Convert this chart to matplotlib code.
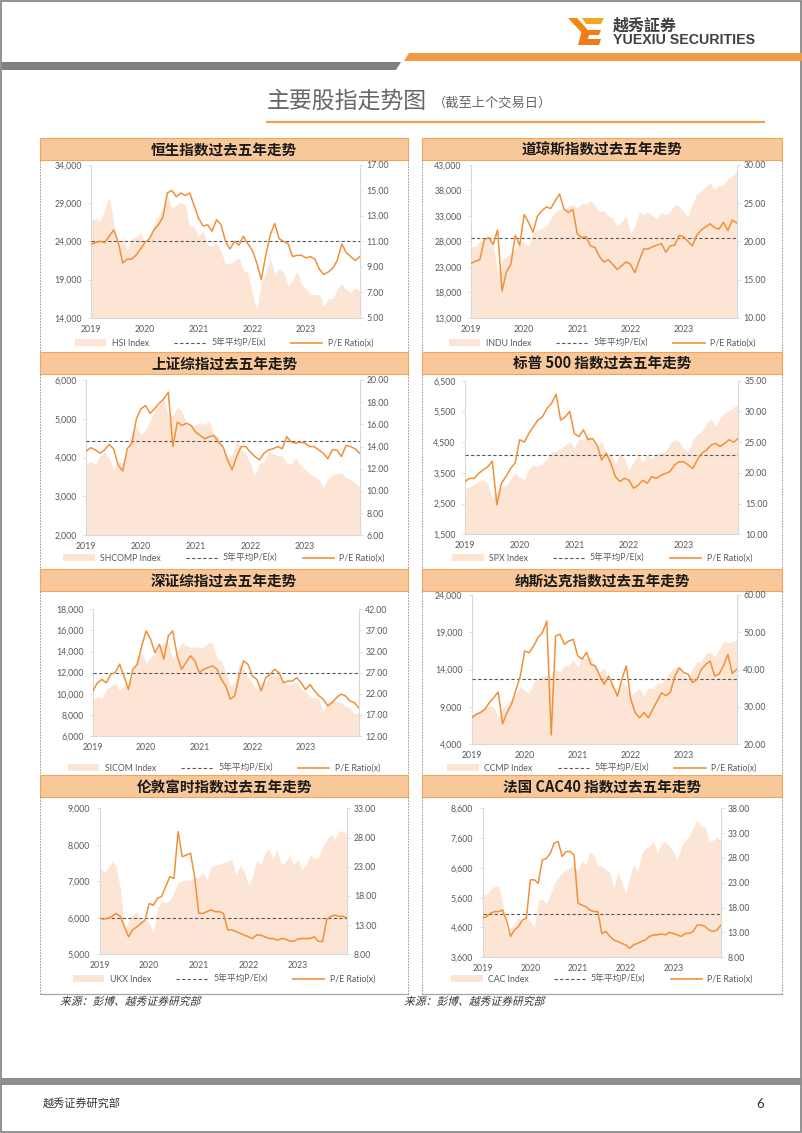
import numpy as np
import matplotlib
matplotlib.use('Agg')
import matplotlib.pyplot as plt
from matplotlib.patches import Rectangle, Polygon, Patch, PathPatch
from matplotlib.lines import Line2D
from matplotlib.ticker import FuncFormatter
from matplotlib.textpath import TextPath
from matplotlib.font_manager import FontProperties
from matplotlib.transforms import Affine2D

plt.rcParams['font.family'] = ['Lato', 'Noto Sans CJK SC', 'DejaVu Sans']

W, H = 802, 1133

# monthly points, first label year on the axis to the last month shown
months = 2019 + np.arange(61) / 12
year_ticks = [2019, 2020, 2021, 2022, 2023]

# ---- index levels (area, left axis) ----
hsi_index = [26800, 27000, 26600, 28200, 29800, 26500, 23000, 24600, 23000, 24400, 24600, 25200,
             23500, 24100, 26300, 27200, 28300, 30000, 28400, 28700, 29100, 28800, 26000, 25900,
             24600, 25400, 23500, 23400, 23800, 22700, 21000, 21100, 21400, 21900, 20200, 19900,
             17200, 15000, 18600, 19800, 21800, 19800, 20400, 19900, 18200, 18900, 20100, 18400,
             17800, 17100, 17000, 17000, 15500, 16500, 16500, 17800, 18500, 17700, 17300, 17900, 17500]
indu_index = [26900, 27000, 28000, 28500, 28500, 27500, 21900, 24300, 25000, 25800, 26400, 28000,
              27800, 27000, 29600, 30300, 30500, 31000, 32500, 33800, 34300, 34300, 34900, 35300,
              34500, 35500, 35300, 36000, 35000, 33900, 34000, 33000, 32500, 31000, 31800, 33000,
              29500, 31000, 33800, 33300, 33800, 33000, 32500, 33800, 33200, 33800, 35300, 34900,
              33800, 33000, 35300, 37300, 37900, 38700, 39500, 38200, 39000, 39000, 40300, 40800, 41800]
shcomp_index = [3850, 3900, 3830, 4050, 4150, 4000, 3700, 3900, 3870, 4150, 4700, 4800,
                4600, 4700, 4950, 5200, 5350, 5550, 5050, 5100, 5300, 5200, 4850, 4800,
                4850, 4900, 4850, 4950, 4600, 4550, 4200, 4000, 4100, 4450, 4200, 4100,
                3850, 3550, 3850, 3900, 4150, 4100, 4050, 4050, 3850, 3850, 4000, 3800,
                3700, 3600, 3500, 3450, 3250, 3450, 3550, 3600, 3600, 3480, 3450, 3350, 3250]
spx_index = [2980, 3040, 3140, 3230, 3280, 3150, 2650, 2910, 3040, 3100, 3270, 3500,
             3360, 3270, 3620, 3750, 3710, 3810, 3970, 4180, 4200, 4300, 4400, 4520,
             4310, 4600, 4570, 4770, 4520, 4370, 4530, 4130, 4130, 3790, 4130, 3960,
             3590, 3870, 4080, 3840, 4080, 3970, 4110, 4170, 4180, 4450, 4590, 4510,
             4290, 4190, 4570, 4770, 4850, 5100, 5250, 5040, 5280, 5460, 5520, 5650, 5700]
sicom_index = [9500, 9700, 9600, 10400, 10700, 11000, 10300, 10800, 10750, 11900, 13600, 13850,
               12900, 13400, 13800, 14450, 14800, 14800, 13400, 13950, 14850, 14600, 14400, 14450,
               14300, 14450, 14800, 14850, 13350, 13100, 12000, 10800, 11000, 12900, 12300, 11600,
               11000, 10400, 11200, 11000, 12000, 11800, 11700, 11300, 10800, 11000, 11100, 10400,
               10200, 9750, 9600, 9500, 8300, 9200, 9400, 9300, 9200, 8800, 8700, 8100, 8200]
ccmp_index = [8000, 8290, 8660, 8970, 9150, 9000, 7700, 8890, 9490, 10060, 10750, 11780,
              11170, 10910, 12200, 12890, 13070, 13190, 13250, 13960, 13750, 14500, 14670, 15260,
              14450, 15500, 15540, 15650, 14240, 13750, 14220, 12330, 12080, 11030, 12390, 11820,
              10580, 10990, 11470, 10470, 11580, 11460, 12220, 12230, 12930, 13790, 14350, 14030,
              13220, 12850, 14230, 15010, 15160, 16090, 16380, 15660, 16740, 17730, 17600, 17710, 18000]
ukx_index = [7400, 7250, 7350, 7540, 7400, 6800, 5670, 5900, 6080, 6170, 5900, 5960,
             5870, 5580, 6270, 6460, 6410, 6480, 6710, 6970, 7020, 7040, 7030, 7120,
             7090, 7240, 7060, 7380, 7460, 7460, 7520, 7540, 7610, 7170, 7420, 7280,
             6890, 7100, 7570, 7450, 7770, 7880, 7630, 7870, 7450, 7530, 7700, 7440,
             7610, 7320, 7450, 7730, 7630, 7630, 7950, 8140, 8280, 8160, 8370, 8380, 8250]
cac_index = [5680, 5730, 5900, 5980, 6000, 5400, 4400, 4570, 4700, 4940, 4780, 5000,
             4800, 4590, 5520, 5550, 5400, 5700, 6070, 6270, 6450, 6510, 6610, 6680,
             6520, 6830, 6720, 7150, 7000, 6660, 6660, 6530, 6470, 5920, 6450, 6130,
             5760, 6270, 6740, 6470, 7080, 7270, 7320, 7490, 7100, 7400, 7500, 7320,
             7140, 6880, 7310, 7540, 7660, 7930, 8200, 7980, 7990, 7480, 7530, 7630, 7500]

# ---- P/E ratio (line, right axis) ----
hsi_pe = [10.8, 10.9, 11.0, 10.9, 11.4, 11.9, 11.0, 9.3, 9.6, 9.6, 9.9, 10.4,
          10.9, 11.2, 11.9, 12.3, 12.9, 14.8, 15.0, 14.5, 14.8, 14.6, 14.8, 13.8,
          12.8, 12.2, 12.3, 11.8, 12.7, 12.3, 11.0, 10.4, 11.0, 10.7, 11.4, 10.8,
          10.3, 9.3, 8.0, 9.9, 11.5, 12.4, 11.2, 11.0, 10.8, 9.8, 9.9, 9.9,
          9.7, 9.8, 9.6, 8.8, 8.4, 8.6, 8.9, 9.5, 10.8, 10.1, 9.8, 9.5, 9.8]
indu_pe = [17.1, 17.4, 17.6, 20.2, 20.5, 19.6, 21.5, 13.5, 16.0, 17.0, 20.8, 19.5,
           23.5, 22.5, 21.2, 23.3, 24.0, 24.5, 24.3, 25.3, 26.2, 24.2, 23.8, 24.2,
           21.0, 20.5, 20.6, 19.4, 19.2, 18.0, 17.3, 17.6, 17.0, 16.3, 16.8, 17.3,
           17.0, 15.9, 17.5, 19.0, 19.0, 19.3, 19.5, 19.7, 18.6, 19.4, 19.5, 20.8,
           20.6, 20.0, 19.4, 20.8, 21.5, 21.9, 22.3, 21.8, 21.6, 22.5, 21.4, 22.8, 22.4]
shcomp_pe = [13.6, 13.9, 13.7, 13.4, 13.7, 14.2, 13.8, 12.3, 11.8, 13.8, 14.3, 16.5,
             17.4, 17.7, 17.0, 17.4, 17.9, 18.3, 18.9, 14.0, 16.2, 15.9, 16.1, 15.9,
             15.3, 15.0, 14.7, 14.9, 15.0, 14.4, 14.0, 12.8, 11.9, 13.1, 14.0, 14.0,
             13.5, 13.1, 12.8, 13.4, 13.7, 13.8, 14.0, 13.8, 14.9, 14.4, 14.3, 14.4,
             14.3, 14.0, 14.0, 13.7, 13.4, 12.9, 13.7, 13.7, 13.1, 14.1, 14.0, 13.8, 13.4]
spx_pe = [18.6, 19.1, 19.1, 19.9, 20.5, 21.0, 21.9, 14.8, 18.3, 19.4, 20.7, 21.6,
          25.4, 25.0, 26.4, 27.5, 28.6, 29.1, 30.5, 31.3, 32.8, 28.6, 29.1, 30.0,
          26.4, 25.9, 27.0, 25.4, 25.6, 24.5, 22.1, 23.2, 21.6, 19.4, 18.6, 19.1,
          18.8, 17.5, 18.0, 18.8, 18.3, 19.4, 19.1, 19.6, 19.9, 20.2, 21.3, 21.8,
          21.8, 21.3, 20.7, 22.1, 23.2, 23.7, 24.5, 24.8, 24.3, 24.8, 25.4, 25.0, 25.6]
sicom_pe = [22.7, 24.6, 25.4, 24.6, 26.6, 27.0, 29.0, 26.2, 23.0, 27.8, 29.0, 33.3,
            36.9, 34.9, 31.7, 33.7, 30.2, 35.7, 36.9, 31.0, 27.8, 29.4, 31.0, 29.8,
            27.0, 27.8, 28.2, 28.6, 27.8, 25.4, 23.8, 20.7, 21.5, 26.2, 29.8, 29.0,
            26.2, 25.4, 22.7, 25.8, 26.6, 27.8, 27.0, 24.6, 25.0, 25.0, 25.8, 24.6,
            23.0, 24.2, 22.7, 21.5, 20.7, 19.1, 19.9, 21.1, 21.9, 21.5, 20.3, 19.9, 18.7]
ccmp_pe = [27.1, 28.0, 28.5, 29.4, 31.2, 32.5, 34.0, 25.5, 28.5, 30.7, 34.5, 38.3,
           45.0, 44.5, 46.3, 48.6, 49.9, 53.0, 22.5, 49.0, 49.5, 46.8, 47.7, 48.1,
           43.7, 42.8, 44.6, 41.4, 41.0, 38.3, 36.1, 38.3, 35.6, 32.9, 37.4, 41.0,
           32.1, 28.5, 27.1, 28.5, 27.1, 29.4, 31.6, 33.8, 33.0, 34.0, 38.3, 40.5,
           39.2, 38.8, 36.5, 37.4, 40.1, 41.4, 42.3, 38.3, 38.8, 41.0, 44.1, 39.0, 40.1]
ukx_pe = [14.2, 14.0, 14.2, 14.5, 15.0, 14.5, 12.7, 11.0, 12.2, 12.7, 13.3, 13.9,
          16.7, 16.4, 17.6, 17.9, 19.6, 21.3, 21.0, 29.0, 24.7, 25.0, 25.3, 21.3,
          15.0, 15.0, 15.3, 15.6, 15.3, 15.3, 15.0, 12.2, 12.2, 11.9, 11.6, 11.3,
          11.0, 10.7, 11.3, 11.3, 11.0, 10.7, 10.7, 10.4, 10.7, 10.6, 10.3, 10.2,
          10.6, 10.7, 10.7, 10.7, 11.0, 10.2, 10.2, 13.9, 14.5, 14.7, 14.5, 14.5, 14.2]
cac_pe = [15.9, 16.2, 16.9, 17.2, 17.2, 17.5, 15.5, 12.2, 13.5, 14.2, 15.5, 15.9,
          23.6, 23.6, 22.9, 27.6, 27.9, 28.9, 31.0, 31.3, 28.3, 29.3, 29.3, 28.6,
          18.9, 18.5, 18.2, 17.5, 17.2, 17.2, 12.8, 13.2, 12.2, 11.5, 11.2, 10.8,
          10.5, 9.8, 10.5, 10.8, 11.2, 11.5, 12.2, 12.5, 12.5, 12.7, 12.5, 13.0,
          12.8, 12.5, 12.2, 12.8, 12.8, 13.2, 14.5, 14.5, 14.2, 13.5, 13.2, 13.5, 14.5]

# 5-year average P/E
avg_pe = {'HSI': 11.0, 'INDU': 20.4, 'SHCOMP': 14.5, 'SPX': 22.9,
          'SICOM': 26.8, 'CCMP': 37.6, 'UKX': 14.3, 'CAC': 16.7}

titles = ['恒生指数过去五年走势', '道琼斯指数过去五年走势', '上证综指过去五年走势',
          '标普 500 指数过去五年走势', '深证综指过去五年走势', '纳斯达克指数过去五年走势',
          '伦敦富时指数过去五年走势', '法国 CAC40 指数过去五年走势']

AREA = '#FCE5D4'
LINE = '#F0913A'
DASH = '#595959'
TXT = '#595959'
AXC = '#D9D9D9'
HEAD = '#F9C89A'
HEAD_EDGE = '#F2A55E'
CJK = ['Noto Sans CJK SC', 'DejaVu Sans']
NUM = ['Lato', 'Noto Sans CJK SC', 'DejaVu Sans']

fig = plt.figure(figsize=(W / 100, H / 100), dpi=100)
bg = fig.add_axes([0, 0, 1, 1])
bg.set_xlim(0, W)
bg.set_ylim(H, 0)
bg.axis('off')


def rect(l, t, r, b):
    return [l / W, 1 - b / H, (r - l) / W, (b - t) / H]


def slanted_text(x, y, s, size_px, color):
    # CJK fonts have no italic face, so shear the glyph outlines instead
    tp = TextPath((0, 0), s, size=size_px, prop=FontProperties(family='Noto Sans CJK SC'))
    tr = Affine2D().skew_deg(14, 0).scale(1, -1).translate(x, y) + bg.transData
    bg.add_patch(PathPatch(tp, transform=tr, fc=color, ec='none'))


# ---- page decoration ----
bg.add_patch(Rectangle((0.5, 0.5), W - 1.5, H - 1.5, fill=False, ec='#7F7F7F', lw=1.2))
bg.add_patch(Polygon([(409, 53), (W, 53), (W, 61), (404, 61)], closed=True, fc='#F39A44', ec='none'))
bg.add_patch(Polygon([(2, 62), (401, 62), (396, 70), (2, 70)], closed=True, fc='#808080', ec='none'))

ox, oy = 568, 18
logo = [([(0, 0), (9, 0), (20, 12), (15, 16)], '#F08A0C'),
        ([(14, 0), (36, 0), (33, 6), (18, 6)], '#F5A623'),
        ([(14, 12), (33, 12), (31, 17), (21, 17), (20, 21), (33, 21), (31, 27), (10, 27)], '#EE7D1A')]
for pts, col in logo:
    bg.add_patch(Polygon([(ox + x, oy + y) for x, y in pts], closed=True, fc=col, ec='none'))
bg.text(613, 26, '越秀証券', fontsize=11.5, fontweight='bold', color='#404040',
        family=CJK, va='center', ha='left')
bg.text(613, 40, 'YUEXIU SECURITIES', fontsize=10.2, fontweight='bold', color='#404040',
        family=['Liberation Sans', 'DejaVu Sans'], va='center', ha='left')

bg.text(267, 101, '主要股指走势图', fontsize=16.5, color='#666666', family=CJK, va='center')
bg.text(433, 103, '（截至上个交易日）', fontsize=9.5, color='#666666', family=CJK, va='center')
bg.plot([266, 765], [121.5, 121.5], color='#F5A04A', lw=1.6, solid_capstyle='butt')

cols = [(40, 408), (422, 782)]
head_top = [138, 352, 569, 775]
frame_bottom = [352, 569, 775, 994]
for r in range(4):
    for x0, x1 in cols:
        bg.add_patch(Rectangle((x0, head_top[r]), x1 - x0, 22, fc=HEAD, ec=HEAD_EDGE, lw=0.8))
        for x in (x0, x1):
            bg.plot([x, x], [head_top[r] + 22, frame_bottom[r]], color='#8C8C8C',
                    lw=0.6, ls=(0, (2, 1.5)))
for x0, x1 in cols:
    bg.plot([x0, x1], [994, 994], color='#A6A6A6', lw=0.9)

for x in (60, 404):
    slanted_text(x, 1005, '来源：彭博、越秀证券研究部', 10.8, '#333333')

bg.add_patch(Rectangle((0, 1078), W, 7, fc='#8E8E8E', ec='none'))
bg.text(43, 1104, '越秀证券研究部', fontsize=8, color='#333333', family=CJK, va='center')
bg.text(760, 1104, '6', fontsize=9.5, color='#333333', family=NUM, va='center', ha='center')

# ---- panels ----
panels = [
    dict(key='HSI', name='HSI Index', index=hsi_index, pe=hsi_pe, col=0, row=0,
         box=(91.3, 165, 359.7, 317.7), ylim=(14000, 34000), ystep=5000, plim=(5, 17), pstep=2, ly=343),
    dict(key='INDU', name='INDU Index', index=indu_index, pe=indu_pe, col=1, row=0,
         box=(471, 165, 736.7, 317.7), ylim=(13000, 43000), ystep=5000, plim=(10, 30), pstep=5, ly=343),
    dict(key='SHCOMP', name='SHCOMP Index', index=shcomp_index, pe=shcomp_pe, col=0, row=1,
         box=(86.3, 380, 359.7, 535.3), ylim=(2000, 6000), ystep=1000, plim=(6, 20), pstep=2, ly=558),
    dict(key='SPX', name='SPX Index', index=spx_index, pe=spx_pe, col=1, row=1,
         box=(465, 380.7, 738.3, 534.3), ylim=(1500, 6500), ystep=1000, plim=(10, 35), pstep=5, ly=558),
    dict(key='SICOM', name='SICOM Index', index=sicom_index, pe=sicom_pe, col=0, row=2,
         box=(93, 609.3, 358.7, 736), ylim=(6000, 18000), ystep=2000, plim=(12, 42), pstep=5, ly=768),
    dict(key='CCMP', name='CCMP Index', index=ccmp_index, pe=ccmp_pe, col=1, row=2,
         box=(471.7, 595, 736.7, 744.3), ylim=(4000, 24000), ystep=5000, plim=(20, 60), pstep=10, ly=768),
    dict(key='UKX', name='UKX Index', index=ukx_index, pe=ukx_pe, col=0, row=3,
         box=(99.7, 808.3, 347.3, 954.3), ylim=(5000, 9000), ystep=1000, plim=(8, 33), pstep=5, ly=979),
    dict(key='CAC', name='CAC Index', index=cac_index, pe=cac_pe, col=1, row=3,
         box=(482.7, 808.3, 721, 957.3), ylim=(3600, 8600), ystep=1000, plim=(8, 38), pstep=5, ly=979),
]

for i, p in enumerate(panels):
    x0, x1 = cols[p['col']]
    bg.text((x0 + x1) / 2, head_top[p['row']] + 11.5, titles[i], fontsize=10.5, fontweight='bold',
            color='#1A1A1A', family=CJK, ha='center', va='center')

    ax = fig.add_axes(rect(*p['box']))
    ax.patch.set_alpha(0)
    ax.fill_between(months, p['ylim'][0], p['index'], color=AREA, lw=0)
    ax.set_xlim(2019, 2024)
    ax.set_ylim(*p['ylim'])
    ax.set_yticks(np.arange(p['ylim'][0], p['ylim'][1] + 1, p['ystep']))
    ax.yaxis.set_major_formatter(FuncFormatter(lambda v, _: f'{v:,.0f}'))
    ax.set_xticks(year_ticks)
    ax.set_xticklabels([str(y) for y in year_ticks])
    ax.tick_params(axis='x', length=0, pad=5, labelsize=6.3, labelcolor=TXT)
    ax.tick_params(axis='y', length=2.2, width=0.6, color=AXC, pad=4.5, labelsize=6.3, labelcolor=TXT)
    for s in ('top', 'right'):
        ax.spines[s].set_visible(False)
    for s in ('left', 'bottom'):
        ax.spines[s].set_color(AXC)
        ax.spines[s].set_linewidth(0.8)

    ax2 = ax.twinx()
    ax2.axhline(avg_pe[p['key']], color=DASH, lw=0.8, ls=(0, (3, 2)))
    ax2.plot(months, p['pe'], color=LINE, lw=1.1)
    ax2.set_ylim(*p['plim'])
    ax2.set_yticks(np.arange(p['plim'][0], p['plim'][1] + 0.01, p['pstep']))
    ax2.yaxis.set_major_formatter(FuncFormatter(lambda v, _: f'{v:.2f}'))
    ax2.tick_params(axis='y', length=2.2, width=0.6, color=AXC, pad=2.5, labelsize=6.3, labelcolor=TXT)
    for s in ('top', 'left', 'bottom'):
        ax2.spines[s].set_visible(False)
    ax2.spines['right'].set_color(AXC)
    ax2.spines['right'].set_linewidth(0.8)

    handles = [Patch(facecolor=AREA, edgecolor='none'),
               Line2D([], [], color=DASH, lw=0.8, ls=(0, (3, 2))),
               Line2D([], [], color=LINE, lw=1.2)]
    labels = [p['name'], '5年平均P/E(x)', 'P/E Ratio(x)']
    ax2.legend(handles, labels, loc='center', bbox_to_anchor=((x0 + x1) / 2 / W, 1 - p['ly'] / H),
               bbox_transform=fig.transFigure, ncol=3, frameon=False,
               prop={'family': NUM, 'size': 6.3}, labelcolor=TXT, handlelength=3.6,
               handletextpad=0.6, columnspacing=2.9, borderaxespad=0, borderpad=0)

fig.savefig('out.png', dpi=100)
